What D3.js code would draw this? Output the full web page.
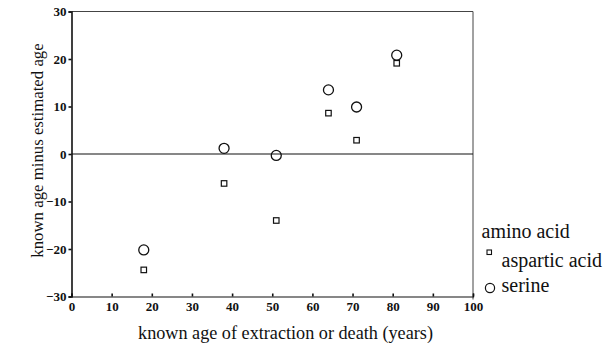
<!DOCTYPE html>
<html>
<head>
<meta charset="utf-8">
<script src="https://cdn.jsdelivr.net/npm/d3@7"></script>
<style>
  body { margin: 0; background: #fff; }
  svg { display: block; }
  text { font-family: "Liberation Serif", "Times New Roman", serif; fill: #111; }
</style>
</head>
<body>
<svg id="chart" width="611" height="349"></svg>
<script>
// Known age (years) for each specimen and the age-estimation error
const serineAge = [18, 38, 51, 64, 71, 81];
const serineDiff = [-20.2, 1.2, -0.3, 13.5, 9.9, 20.8];
const asparticAge = [18, 38, 51, 64, 71, 81];
const asparticDiff = [-24.4, -6.2, -14, 8.6, 2.9, 19.1];
const xTicks = [0, 10, 20, 30, 40, 50, 60, 70, 80, 90, 100];
const yTicks = [-30, -20, -10, 0, 10, 20, 30];
const legendTitle = "amino acid";
const seriesNames = ["aspartic acid", "serine"];

const svg = d3.select("#chart");
const m = { left: 71.5, right: 473, top: 11.5, bottom: 296.5 };

const x = d3.scaleLinear().domain([0, 100]).range([m.left, m.right]);
const y = d3.scaleLinear().domain([-30, 30]).range([m.bottom, m.top]);

// Frame: top and right edges
svg.append("line").attr("x1", m.left).attr("x2", m.right).attr("y1", m.top).attr("y2", m.top)
  .attr("stroke", "#444").attr("stroke-width", 1);
svg.append("line").attr("x1", m.right).attr("x2", m.right).attr("y1", m.top).attr("y2", m.bottom + 3)
  .attr("stroke", "#444").attr("stroke-width", 1);

// Zero reference line
svg.append("line").attr("x1", m.left).attr("x2", m.right).attr("y1", y(0)).attr("y2", y(0))
  .attr("stroke", "#111").attr("stroke-width", 1.2);

// Left axis
const yAxis = d3.axisLeft(y).tickValues(yTicks).tickSize(3).tickPadding(2).tickFormat(d3.format("d"));
const gy = svg.append("g").attr("transform", `translate(${m.left},0)`).call(yAxis);
gy.select(".domain").attr("stroke", "#111").attr("stroke-width", 1.6);
gy.selectAll(".tick line").attr("stroke", "#111").attr("stroke-width", 1.6);
gy.selectAll(".tick text").attr("font-size", 13).attr("font-weight", "bold")
  .style("font-family", "'Liberation Serif', serif").attr("fill", "#111");

// Bottom axis
const xAxis = d3.axisBottom(x).tickValues(xTicks).tickSize(-3).tickPadding(5).tickFormat(d3.format("d"));
const gx = svg.append("g").attr("transform", `translate(0,${m.bottom})`).call(xAxis);
gx.select(".domain").attr("stroke", "#111").attr("stroke-width", 1.2);
gx.selectAll(".tick line").attr("stroke", "#111").attr("stroke-width", 1.6);
gx.selectAll(".tick text").attr("font-size", 13).attr("font-weight", "bold")
  .style("font-family", "'Liberation Serif', serif").attr("fill", "#111");

// Axis titles
svg.append("text").attr("x", 285.5).attr("y", 339).attr("text-anchor", "middle")
  .attr("font-size", 18.2).text("known age of extraction or death (years)");
svg.append("text").attr("transform", `translate(43,150.5) rotate(-90)`)
  .attr("text-anchor", "middle").attr("font-size", 16.8).text("known age minus estimated age");

// Aspartic acid: small squares
const sq = 5.5;
svg.append("g").selectAll("rect").data(d3.zip(asparticAge, asparticDiff)).join("rect")
  .attr("x", d => x(d[0]) - sq / 2).attr("y", d => y(d[1]) - sq / 2)
  .attr("width", sq).attr("height", sq)
  .attr("fill", "none").attr("stroke", "#111").attr("stroke-width", 1.2);

// Serine: open circles
svg.append("g").selectAll("circle").data(d3.zip(serineAge, serineDiff)).join("circle")
  .attr("cx", d => x(d[0])).attr("cy", d => y(d[1])).attr("r", 5)
  .attr("fill", "none").attr("stroke", "#111").attr("stroke-width", 1.3);

// Legend
svg.append("text").attr("x", 481.5).attr("y", 238).attr("font-size", 20).text(legendTitle);
svg.append("rect").attr("x", 487).attr("y", 250).attr("width", 4.5).attr("height", 4.5)
  .attr("fill", "none").attr("stroke", "#111").attr("stroke-width", 1.1);
svg.append("text").attr("x", 501.5).attr("y", 266.5).attr("font-size", 20).text(seriesNames[0]);
svg.append("circle").attr("cx", 490).attr("cy", 288).attr("r", 4.6)
  .attr("fill", "none").attr("stroke", "#111").attr("stroke-width", 1.2);
svg.append("text").attr("x", 501.5).attr("y", 291.5).attr("font-size", 20).text(seriesNames[1]);
</script>
</body>
</html>
